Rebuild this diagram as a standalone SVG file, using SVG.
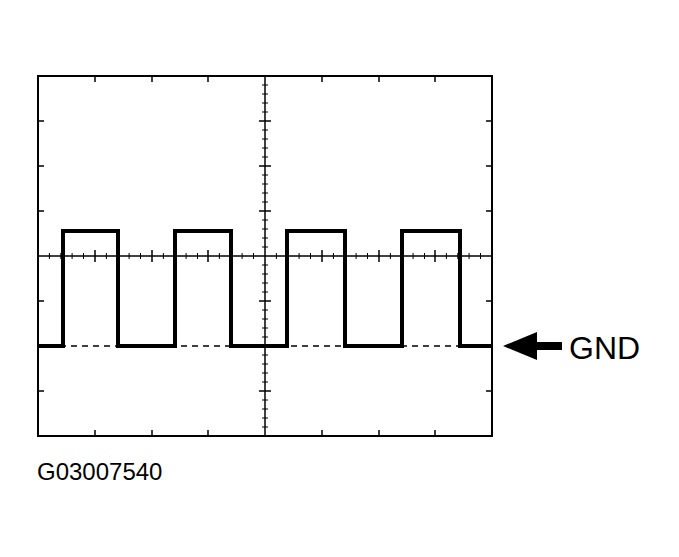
<svg xmlns="http://www.w3.org/2000/svg" width="679" height="557" viewBox="0 0 679 557">
<style>
.f{fill:none;stroke:#000;stroke-width:2}
.t{fill:none;stroke:#000;stroke-width:1.5}
.w{fill:none;stroke:#000;stroke-width:4;stroke-linejoin:miter}
text{font-family:"Liberation Sans",Arial,sans-serif;fill:#000}
</style>
<rect width="679" height="557" fill="#fff"/>
<g id="scope">
<rect class="f" x="38" y="76" width="454" height="360"/>
<line class="t" x1="38" y1="256" x2="492" y2="256"/>
<line class="t" x1="265" y1="76" x2="265" y2="436"/>
<line stroke="#000" stroke-width="1.5" stroke-dasharray="6,5" x1="38" y1="346" x2="492" y2="346"/>
<path class="t" d="M95,250v12M152,250v12M208,250v12M322,250v12M379,250v12M435,250v12M259,121h12M259,166h12M259,211h12M259,301h12M259,346h12M259,391h12M38,121h6M38,166h6M38,211h6M38,301h6M38,391h6M492,121h-6M492,166h-6M492,211h-6M492,301h-6M492,391h-6M95,436v-6M152,436v-6M208,436v-6M322,436v-6M379,436v-6M435,436v-6M95,76v6M152,76v6M208,76v6M322,76v6M379,76v6M435,76v6"/>
<path stroke="#000" stroke-width="1" d="M49.4,253v6M60.8,253v6M72.1,253v6M83.5,253v6M106.4,253v6M117.8,253v6M129.1,253v6M140.5,253v6M163.4,253v6M174.8,253v6M186.1,253v6M197.5,253v6M219.4,253v6M230.8,253v6M242.1,253v6M253.5,253v6M276.4,253v6M287.8,253v6M299.1,253v6M310.5,253v6M333.4,253v6M344.8,253v6M356.1,253v6M367.5,253v6M390.4,253v6M401.8,253v6M413.1,253v6M424.5,253v6M446.4,253v6M457.8,253v6M469.1,253v6M480.5,253v6M262,85h6M262,94h6M262,103h6M262,112h6M262,130h6M262,139h6M262,148h6M262,157h6M262,175h6M262,184h6M262,193h6M262,202h6M262,220h6M262,229h6M262,238h6M262,247h6M262,265h6M262,274h6M262,283h6M262,292h6M262,310h6M262,319h6M262,328h6M262,337h6M262,355h6M262,364h6M262,373h6M262,382h6M262,400h6M262,409h6M262,418h6M262,427h6"/>
</g>
<g id="waveform">
<path class="w" d="M38,346H63V231H118V346H175V231H231V346H287V231H345V346H402V231H460V346H492"/>
</g>
<g id="gnd-arrow">
<polygon points="503,346 537,332 537,342 562,342 562,350 537,350 537,360" fill="#000"/>
<text x="569" y="359" font-size="32">GND</text>
</g>
<text x="37" y="480" font-size="24">G03007540</text>
</svg>
